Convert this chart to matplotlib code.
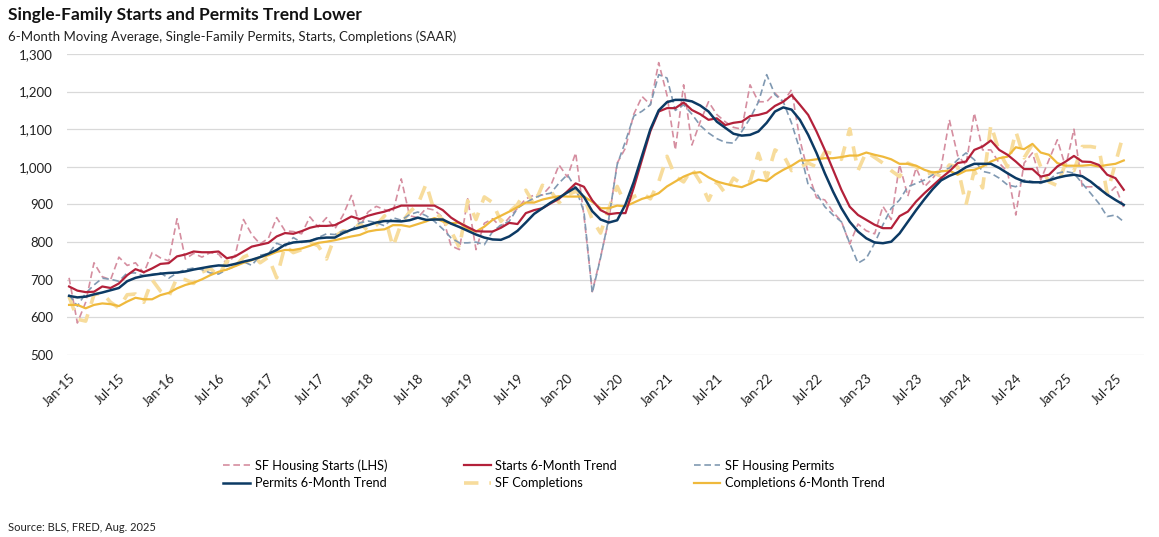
import matplotlib
matplotlib.use("Agg")
import matplotlib.pyplot as plt
from matplotlib.ticker import FuncFormatter
import pandas as pd

plt.rcParams['font.family'] = ['Lato', 'DejaVu Sans']

months = pd.date_range('2015-01-01', '2025-08-01', freq='MS')

# SF housing starts, thousands SAAR
starts = [
    705, 585, 640, 745, 708, 700, 760, 738, 745, 718, 772, 758,
    750, 862, 755, 770, 760, 772, 768, 742, 765, 860, 820, 795,
    810, 865, 830, 828, 822, 867, 840, 865, 835, 872, 924, 842,
    880, 895, 886, 880, 968, 870, 865, 890, 885, 865, 790, 780,
    915, 780, 850, 862, 840, 865, 890, 915, 925, 925, 950, 1005,
    973, 1037, 870, 668, 760, 860, 1010, 1050, 1140, 1187, 1165, 1277,
    1190, 1045, 1218, 1058, 1120, 1173, 1139, 1120, 1105, 1100, 1218, 1173,
    1173, 1196, 1173, 1205, 1072, 984, 918, 912, 880, 855, 795, 848,
    830, 822, 895, 860, 1006, 922, 997, 947, 970, 997, 1125, 1030,
    1005, 1143, 1045, 1045, 1010, 987, 872, 1010, 1037, 965, 1019, 1072,
    1000, 1100, 947, 947, 947, 925, 947, 891,
]

starts_trend = [
    682, 671, 667, 668, 682, 678, 690, 712, 728, 720, 730, 742,
    744, 762, 767, 775, 773, 773, 775, 757, 762, 775, 788, 793,
    798, 815, 824, 822, 829, 838, 843, 843, 845, 856, 868, 861,
    870, 876, 881, 889, 897, 897, 897, 897, 897, 885, 865, 851,
    840, 829, 828, 828, 838, 851, 848, 877, 885, 890, 903, 915,
    935, 956, 947, 911, 885, 874, 877, 877, 945, 1020, 1095, 1147,
    1156, 1156, 1171, 1151, 1140, 1125, 1129, 1111, 1117, 1120, 1135, 1138,
    1144, 1162, 1173, 1191, 1165, 1138, 1094, 1045, 992, 939, 894, 872,
    859, 846, 837, 837, 869, 881, 908, 930, 950, 970, 988, 1010,
    1014, 1045, 1054, 1070, 1045, 1032, 1014, 994, 994, 974, 979, 1001,
    1014, 1029, 1014, 1013, 1005, 979, 970, 939,
]

permits = [
    660, 630, 664, 686, 704, 701, 696, 718, 718, 710, 714, 718,
    704, 718, 727, 731, 727, 718, 715, 727, 736, 748, 738, 765,
    769, 797, 788, 812, 799, 803, 812, 822, 820, 829, 833, 851,
    856, 852, 843, 865, 858, 873, 880, 870, 855, 835, 811, 798,
    798, 800, 793, 828, 845, 855, 890, 905, 917, 926, 930, 957,
    979, 944, 880, 665, 758, 864, 1006, 1068, 1135, 1148, 1165, 1245,
    1236, 1150, 1165, 1140, 1110, 1090, 1075, 1065, 1063, 1094, 1129, 1172,
    1245, 1192, 1173, 1116, 1045, 952, 930, 894, 872, 854, 797, 744,
    757, 797, 846, 890, 912, 947, 956, 965, 979, 988, 997, 1019,
    1037, 1019, 988, 983, 970, 952, 947, 965, 961, 956, 965, 983,
    988, 983, 956, 930, 903, 868, 872, 854,
]

permits_trend = [
    657, 653, 655, 661, 666, 672, 678, 696, 705, 710, 713, 716,
    718, 719, 722, 727, 731, 735, 738, 737, 742, 748, 753, 760,
    769, 779, 793, 799, 801, 803, 810, 812, 812, 824, 833, 839,
    845, 852, 856, 856, 855, 858, 865, 859, 860, 860, 849, 840,
    830, 820, 812, 807, 806, 815, 830, 852, 875, 890, 905, 918,
    932, 945, 920, 882, 860, 852, 858, 900, 960, 1030, 1100, 1150,
    1172, 1178, 1178, 1174, 1163, 1147, 1120, 1104, 1088, 1083, 1085, 1094,
    1117, 1147, 1158, 1152, 1125, 1085, 1037, 983, 934, 890, 854, 828,
    810, 799, 797, 801, 823, 854, 885, 914, 941, 964, 976, 985,
    999, 1008, 1008, 1008, 997, 983, 970, 961, 959, 959, 964, 971,
    976, 979, 975, 961, 943, 926, 912, 899,
]

completions = [
    655, 595, 590, 660, 665, 640, 625, 660, 662, 640, 700, 670,
    655, 705, 700, 690, 720, 730, 710, 750, 735, 760, 770, 745,
    760, 705, 790, 772, 780, 800, 790, 755, 815, 830, 825, 850,
    830, 845, 870, 787, 850, 880, 900, 955, 880, 860, 830, 785,
    910, 860, 920, 905, 855, 880, 900, 938, 900, 951, 935, 905,
    925, 935, 920, 860, 824, 890, 948, 900, 921, 930, 915, 960,
    1028, 974, 960, 995, 960, 911, 960, 930, 970, 955, 960, 1036,
    970, 1045, 1032, 990, 1000, 1010, 1000, 1040, 1035, 1020, 1101, 990,
    1040, 1025, 1010, 990, 974, 1010, 1000, 980, 985, 975, 1005, 1000,
    899, 990, 944, 1112, 1040, 1000, 1094, 1024, 1060, 1000, 960, 950,
    1010, 990, 1054, 1054, 1050, 930, 1010, 1090,
]

completions_trend = [
    633, 633, 624, 633, 637, 635, 630, 642, 652, 648, 648, 659,
    665, 677, 686, 692, 701, 712, 721, 727, 736, 745, 752, 760,
    765, 774, 779, 779, 783, 790, 798, 801, 805, 810, 815, 819,
    828, 832, 834, 845, 845, 841, 848, 855, 864, 855, 850, 852,
    835, 828, 841, 859, 870, 881, 893, 905, 905, 913, 918, 922,
    921, 921, 921, 907, 890, 890, 897, 895, 905, 915, 921, 930,
    948, 961, 974, 983, 986, 972, 961, 955, 950, 946, 955, 966,
    962, 979, 992, 1003, 1017, 1017, 1020, 1023, 1023, 1026, 1030, 1030,
    1038, 1032, 1027, 1020, 1008, 1008, 1003, 992, 985, 988, 990, 979,
    990, 992, 1001, 1014, 1023, 1027, 1052, 1047, 1061, 1038, 1032, 1010,
    1003, 1003, 1003, 1005, 1001, 1005, 1008, 1017,
]

tick_labels = [m.strftime('%b-%y') for m in months]

fig = plt.figure(figsize=(11.59, 5.37), dpi=100)
ax = fig.add_axes([0.0578, 0.339, 0.929, 0.5605])

x = range(len(months))

l1, = ax.plot(x, starts, color='#d58ea0', lw=1.2, ls=(0, (4, 2.2)),
              label='SF Housing Starts (LHS)')
l5, = ax.plot(x, completions, color='#f7dc9c', lw=2.6, ls=(0, (4, 3)),
              label='SF Completions')
l3, = ax.plot(x, permits, color='#8099b2', lw=1.2, ls=(0, (4, 2.2)),
              label='SF Housing Permits')
l6, = ax.plot(x, completions_trend, color='#efb93c', lw=1.6,
              label='Completions 6-Month Trend')
l2, = ax.plot(x, starts_trend, color='#b3213a', lw=1.6,
              label='Starts 6-Month Trend')
l4, = ax.plot(x, permits_trend, color='#0c3a64', lw=1.8,
              label='Permits 6-Month Trend')

ax.set_ylim(500, 1300)
ax.set_yticks(range(500, 1301, 100))
ax.yaxis.set_major_formatter(FuncFormatter(lambda v, p: '{:,.0f}'.format(v)))
ax.set_xlim(-0.25, 129.4)
ax.set_xticks(list(x)[::6])
ax.set_xticklabels(tick_labels[::6], rotation=45, ha='right', va='top',
                   rotation_mode='anchor')

ax.grid(axis='y', color='#d9d9d9', lw=0.9)
ax.set_axisbelow(True)
for s in ax.spines.values():
    s.set_visible(False)
ax.tick_params(axis='both', length=0, labelsize=9.5, colors='#222222')
ax.tick_params(axis='x', pad=12)
ax.tick_params(axis='y', pad=10)

fig.text(0.007, 0.972, 'Single-Family Starts and Permits Trend Lower',
         fontsize=12.5, fontweight='bold', va='center', color='#111111')
fig.text(0.007, 0.932,
         '6-Month Moving Average, Single-Family Permits, Starts, Completions (SAAR)',
         fontsize=9.5, va='center', color='#222222')
fig.text(0.007, 0.018, 'Source: BLS, FRED, Aug. 2025', fontsize=8,
         va='center', color='#222222')

# ncol=3 fills by column, so order handles for row-wise layout
handles = [l1, l4, l2, l5, l3, l6]
fig.legend(handles=handles, labels=[h.get_label() for h in handles],
           ncol=3, loc='center', bbox_to_anchor=(0.478, 0.117),
           frameon=False, fontsize=9.2, handlelength=2.1, handletextpad=0.35,
           columnspacing=6.0, labelspacing=0.4)

fig.savefig('out.png', dpi=100)
